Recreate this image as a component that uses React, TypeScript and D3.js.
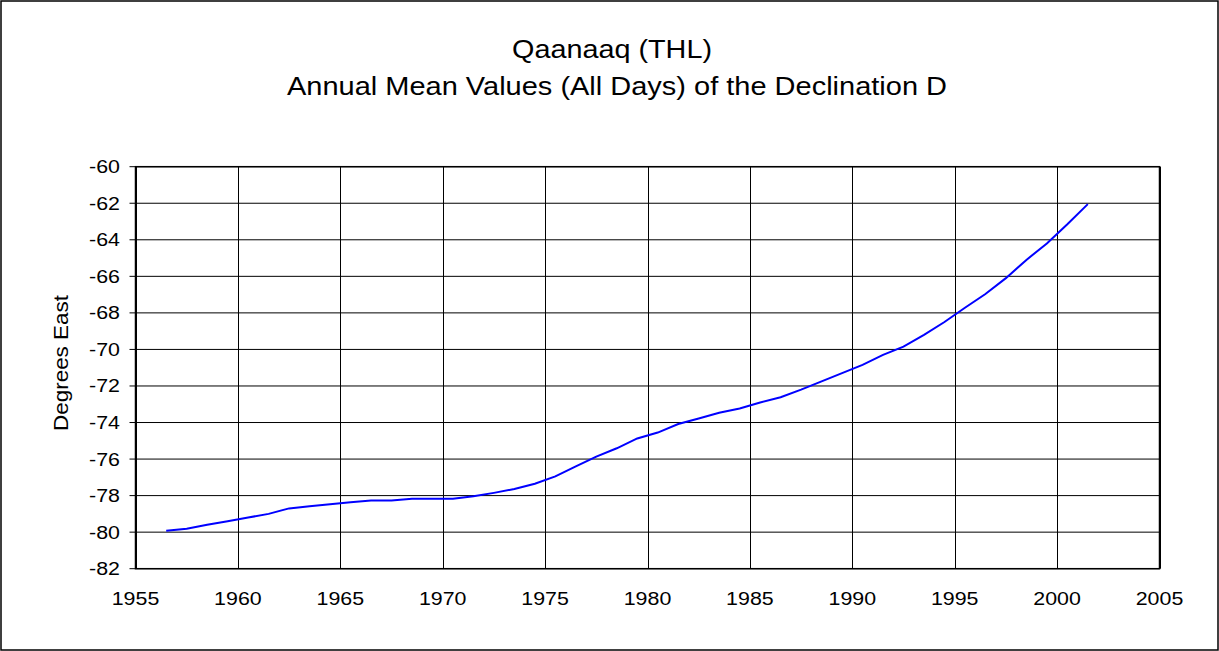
import React from "react";
import * as d3 from "d3";

const years: number[] = [
  1956, 1957, 1958, 1959, 1960, 1961, 1962, 1963, 1964, 1965,
  1966, 1967, 1968, 1969, 1970, 1971, 1972, 1973, 1974, 1975,
  1976, 1977, 1978, 1979, 1980, 1981, 1982, 1983, 1984, 1985,
  1986, 1987, 1988, 1989, 1990, 1991, 1992, 1993, 1994, 1995,
  1996, 1997, 1998, 1999, 2000, 2001,
];
const declination: number[] = [
  -79.92, -79.81, -79.6, -79.4, -79.2, -79.0, -78.7, -78.58, -78.47, -78.37,
  -78.27, -78.27, -78.17, -78.17, -78.17, -78.04, -77.85, -77.64, -77.35, -76.95,
  -76.4, -75.87, -75.41, -74.87, -74.55, -74.08, -73.78, -73.47, -73.23, -72.9,
  -72.62, -72.2, -71.75, -71.3, -70.85, -70.3, -69.85, -69.2, -68.5, -67.72,
  -66.97, -66.1, -65.1, -64.2, -63.15, -62.05,
];
const xTicks: number[] = [1955, 1960, 1965, 1970, 1975, 1980, 1985, 1990, 1995, 2000, 2005];
const yTicks: number[] = [-60, -62, -64, -66, -68, -70, -72, -74, -76, -78, -80, -82];
const titleLines: string[] = ["Qaanaaq (THL)", "Annual Mean Values (All Days) of the Declination D"];
const yAxisTitle = "Degrees East";

export default function App() {
  const W = 1219;
  const H = 651;
  const left = 135.5;
  const right = 1159.5;
  const top = 166.7;
  const bottom = 568.7;
  const x = d3.scaleLinear().domain([1955, 2005]).range([left, right]);
  const y = d3.scaleLinear().domain([-82, -60]).range([bottom, top]);
  const pts: [number, number][] = years.map((yr, i) => [yr + 0.5, declination[i]]);
  const line = d3
    .line<[number, number]>()
    .x((d) => x(d[0]))
    .y((d) => y(d[1]));
  const font = "'Liberation Sans', Arial, sans-serif";
  const tickFs = 18.6;
  const sx = 1.15;

  return (
    <svg
      width={W}
      height={H}
      style={{ position: "absolute", left: 0, top: 0, background: "#fff" }}
      fontFamily={font}
    >
      <rect x={0} y={0} width={W} height={H} fill="#fff" />
      <rect x={1} y={1} width={1217} height={649} fill="none" stroke="#000" strokeWidth={1.5} />
      <text
        x={612}
        y={58}
        textAnchor="middle"
        fontSize={25}
        fill="#000"
        textLength={200}
        lengthAdjust="spacingAndGlyphs"
      >
        {titleLines[0]}
      </text>
      <text
        x={617}
        y={95}
        textAnchor="middle"
        fontSize={25}
        fill="#000"
        textLength={660}
        lengthAdjust="spacingAndGlyphs"
      >
        {titleLines[1]}
      </text>
      {yTicks.map((t) => (
        <g key={"y" + t}>
          <line x1={left - 6} x2={right} y1={y(t)} y2={y(t)} stroke="#000" strokeWidth={1} />
          <g transform={`translate(120, ${y(t)}) scale(${sx}, 1)`}>
            <text x={0} y={0} dy="0.35em" textAnchor="end" fontSize={tickFs} fill="#000">
              {t}
            </text>
          </g>
        </g>
      ))}
      {xTicks.map((t) => (
        <g key={"x" + t}>
          <line
            x1={Math.round(x(t)) + 0.5}
            x2={Math.round(x(t)) + 0.5}
            y1={top}
            y2={bottom}
            stroke="#000"
            strokeWidth={1}
          />
          <g transform={`translate(${x(t)}, 605) scale(${sx}, 1)`}>
            <text x={0} y={0} textAnchor="middle" fontSize={tickFs} fill="#000">
              {t}
            </text>
          </g>
        </g>
      ))}
      <rect
        x={left}
        y={top}
        width={right - left}
        height={bottom - top}
        fill="none"
        stroke="#000"
        strokeWidth={1.5}
      />
      <text
        transform={`translate(68, 363) rotate(-90)`}
        textAnchor="middle"
        fontSize={20}
        fill="#000"
        textLength={136}
        lengthAdjust="spacingAndGlyphs"
      >
        {yAxisTitle}
      </text>
      <path d={line(pts) ?? ""} fill="none" stroke="#0000FF" strokeWidth={2} />
    </svg>
  );
}
